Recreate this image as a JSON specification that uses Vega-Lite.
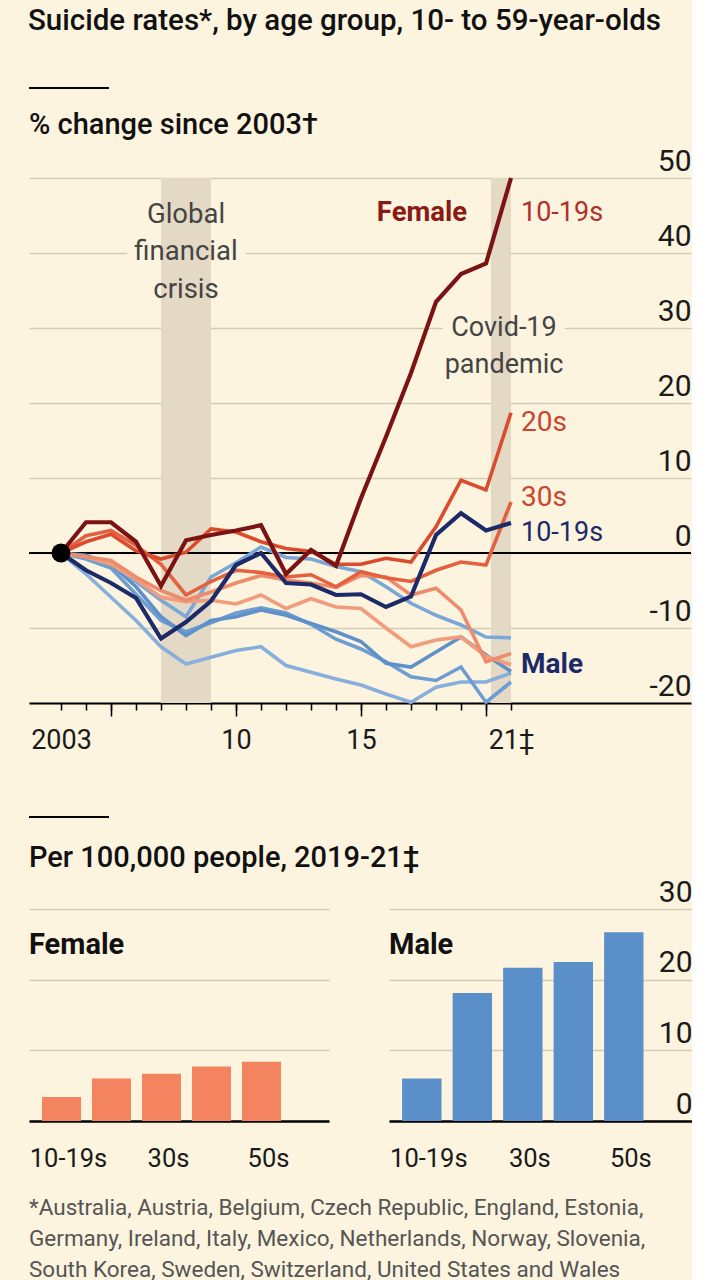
{
  "$schema": "https://vega.github.io/schema/vega-lite/v6.json",
  "background": "#fcf4de",
  "padding": {"left": 28, "top": 5, "right": 0, "bottom": 0},
  "config": {
    "font": "Roboto",
    "view": {"stroke": null},
    "title": {"font": "Roboto", "color": "#111111"},
    "axis": {"labelFont": "Roboto", "labelColor": "#1a1a1a", "titleFont": "Roboto"}
  },
  "datasets": {
    "lines": [
      {"series":"M50s","year":2003,"change":0},{"series":"M50s","year":2004,"change":-2.8},{"series":"M50s","year":2005,"change":-5.9},{"series":"M50s","year":2006,"change":-9.0},{"series":"M50s","year":2007,"change":-12.5},{"series":"M50s","year":2008,"change":-14.8},{"series":"M50s","year":2009,"change":-13.9},{"series":"M50s","year":2010,"change":-13.0},{"series":"M50s","year":2011,"change":-12.5},{"series":"M50s","year":2012,"change":-15.0},{"series":"M50s","year":2013,"change":-15.9},{"series":"M50s","year":2014,"change":-16.8},{"series":"M50s","year":2015,"change":-17.6},{"series":"M50s","year":2016,"change":-18.8},{"series":"M50s","year":2017,"change":-19.9},{"series":"M50s","year":2018,"change":-17.9},{"series":"M50s","year":2019,"change":-17.2},{"series":"M50s","year":2020,"change":-17.2},{"series":"M50s","year":2021,"change":-16.0},
      {"series":"M40s","year":2003,"change":0},{"series":"M40s","year":2004,"change":-0.8},{"series":"M40s","year":2005,"change":-2.0},{"series":"M40s","year":2006,"change":-5.5},{"series":"M40s","year":2007,"change":-9.0},{"series":"M40s","year":2008,"change":-10.5},{"series":"M40s","year":2009,"change":-9.3},{"series":"M40s","year":2010,"change":-8.0},{"series":"M40s","year":2011,"change":-7.3},{"series":"M40s","year":2012,"change":-8.0},{"series":"M40s","year":2013,"change":-9.5},{"series":"M40s","year":2014,"change":-11.5},{"series":"M40s","year":2015,"change":-12.8},{"series":"M40s","year":2016,"change":-14.5},{"series":"M40s","year":2017,"change":-16.5},{"series":"M40s","year":2018,"change":-17.0},{"series":"M40s","year":2019,"change":-15.2},{"series":"M40s","year":2020,"change":-19.9},{"series":"M40s","year":2021,"change":-17.2},
      {"series":"M30s","year":2003,"change":0},{"series":"M30s","year":2004,"change":-0.3},{"series":"M30s","year":2005,"change":-1.5},{"series":"M30s","year":2006,"change":-4.5},{"series":"M30s","year":2007,"change":-8.5},{"series":"M30s","year":2008,"change":-11.0},{"series":"M30s","year":2009,"change":-9.0},{"series":"M30s","year":2010,"change":-8.5},{"series":"M30s","year":2011,"change":-7.6},{"series":"M30s","year":2012,"change":-8.3},{"series":"M30s","year":2013,"change":-9.4},{"series":"M30s","year":2014,"change":-10.5},{"series":"M30s","year":2015,"change":-11.8},{"series":"M30s","year":2016,"change":-14.7},{"series":"M30s","year":2017,"change":-15.2},{"series":"M30s","year":2018,"change":-13.2},{"series":"M30s","year":2019,"change":-11.2},{"series":"M30s","year":2020,"change":-13.6},{"series":"M30s","year":2021,"change":-15.8},
      {"series":"M20s","year":2003,"change":0},{"series":"M20s","year":2004,"change":-0.6},{"series":"M20s","year":2005,"change":-1.4},{"series":"M20s","year":2006,"change":-3.8},{"series":"M20s","year":2007,"change":-6.3},{"series":"M20s","year":2008,"change":-8.5},{"series":"M20s","year":2009,"change":-3.2},{"series":"M20s","year":2010,"change":-1.3},{"series":"M20s","year":2011,"change":0.8},{"series":"M20s","year":2012,"change":-0.6},{"series":"M20s","year":2013,"change":-0.8},{"series":"M20s","year":2014,"change":-1.8},{"series":"M20s","year":2015,"change":-2.5},{"series":"M20s","year":2016,"change":-4.5},{"series":"M20s","year":2017,"change":-6.7},{"series":"M20s","year":2018,"change":-8.3},{"series":"M20s","year":2019,"change":-9.6},{"series":"M20s","year":2020,"change":-11.2},{"series":"M20s","year":2021,"change":-11.3},
      {"series":"F50s","year":2003,"change":0},{"series":"F50s","year":2004,"change":-0.5},{"series":"F50s","year":2005,"change":-1.5},{"series":"F50s","year":2006,"change":-3.5},{"series":"F50s","year":2007,"change":-5.9},{"series":"F50s","year":2008,"change":-6.5},{"series":"F50s","year":2009,"change":-6.3},{"series":"F50s","year":2010,"change":-6.8},{"series":"F50s","year":2011,"change":-5.6},{"series":"F50s","year":2012,"change":-7.4},{"series":"F50s","year":2013,"change":-6.1},{"series":"F50s","year":2014,"change":-7.2},{"series":"F50s","year":2015,"change":-7.4},{"series":"F50s","year":2016,"change":-10.0},{"series":"F50s","year":2017,"change":-12.5},{"series":"F50s","year":2018,"change":-11.6},{"series":"F50s","year":2019,"change":-11.2},{"series":"F50s","year":2020,"change":-13.8},{"series":"F50s","year":2021,"change":-14.9},
      {"series":"F40s","year":2003,"change":0},{"series":"F40s","year":2004,"change":-0.5},{"series":"F40s","year":2005,"change":-1.0},{"series":"F40s","year":2006,"change":-3.2},{"series":"F40s","year":2007,"change":-5.0},{"series":"F40s","year":2008,"change":-6.3},{"series":"F40s","year":2009,"change":-5.2},{"series":"F40s","year":2010,"change":-4.0},{"series":"F40s","year":2011,"change":-3.0},{"series":"F40s","year":2012,"change":-3.6},{"series":"F40s","year":2013,"change":-4.0},{"series":"F40s","year":2014,"change":-4.6},{"series":"F40s","year":2015,"change":-3.0},{"series":"F40s","year":2016,"change":-3.2},{"series":"F40s","year":2017,"change":-5.6},{"series":"F40s","year":2018,"change":-4.7},{"series":"F40s","year":2019,"change":-7.6},{"series":"F40s","year":2020,"change":-14.5},{"series":"F40s","year":2021,"change":-13.4},
      {"series":"F30s","year":2003,"change":0},{"series":"F30s","year":2004,"change":2.3},{"series":"F30s","year":2005,"change":3.0},{"series":"F30s","year":2006,"change":1.0},{"series":"F30s","year":2007,"change":-1.5},{"series":"F30s","year":2008,"change":-5.6},{"series":"F30s","year":2009,"change":-3.8},{"series":"F30s","year":2010,"change":-2.3},{"series":"F30s","year":2011,"change":-2.6},{"series":"F30s","year":2012,"change":-3.2},{"series":"F30s","year":2013,"change":-2.9},{"series":"F30s","year":2014,"change":-4.5},{"series":"F30s","year":2015,"change":-2.5},{"series":"F30s","year":2016,"change":-3.3},{"series":"F30s","year":2017,"change":-3.8},{"series":"F30s","year":2018,"change":-2.3},{"series":"F30s","year":2019,"change":-1.2},{"series":"F30s","year":2020,"change":-1.6},{"series":"F30s","year":2021,"change":6.8},
      {"series":"F20s","year":2003,"change":0},{"series":"F20s","year":2004,"change":1.5},{"series":"F20s","year":2005,"change":2.5},{"series":"F20s","year":2006,"change":0.3},{"series":"F20s","year":2007,"change":-0.8},{"series":"F20s","year":2008,"change":0.1},{"series":"F20s","year":2009,"change":3.2},{"series":"F20s","year":2010,"change":2.8},{"series":"F20s","year":2011,"change":1.5},{"series":"F20s","year":2012,"change":0.6},{"series":"F20s","year":2013,"change":0.2},{"series":"F20s","year":2014,"change":-1.5},{"series":"F20s","year":2015,"change":-1.5},{"series":"F20s","year":2016,"change":-0.7},{"series":"F20s","year":2017,"change":-1.2},{"series":"F20s","year":2018,"change":3.5},{"series":"F20s","year":2019,"change":9.7},{"series":"F20s","year":2020,"change":8.4},{"series":"F20s","year":2021,"change":18.7},
      {"series":"M10-19","year":2003,"change":0},{"series":"M10-19","year":2004,"change":-2.3},{"series":"M10-19","year":2005,"change":-4.0},{"series":"M10-19","year":2006,"change":-6.0},{"series":"M10-19","year":2007,"change":-11.4},{"series":"M10-19","year":2008,"change":-9.2},{"series":"M10-19","year":2009,"change":-6.4},{"series":"M10-19","year":2010,"change":-1.6},{"series":"M10-19","year":2011,"change":0.0},{"series":"M10-19","year":2012,"change":-4.0},{"series":"M10-19","year":2013,"change":-4.2},{"series":"M10-19","year":2014,"change":-5.6},{"series":"M10-19","year":2015,"change":-5.5},{"series":"M10-19","year":2016,"change":-7.2},{"series":"M10-19","year":2017,"change":-5.8},{"series":"M10-19","year":2018,"change":2.4},{"series":"M10-19","year":2019,"change":5.3},{"series":"M10-19","year":2020,"change":3.0},{"series":"M10-19","year":2021,"change":4.0},
      {"series":"F10-19","year":2003,"change":0},{"series":"F10-19","year":2004,"change":4.1},{"series":"F10-19","year":2005,"change":4.1},{"series":"F10-19","year":2006,"change":1.5},{"series":"F10-19","year":2007,"change":-4.4},{"series":"F10-19","year":2008,"change":1.7},{"series":"F10-19","year":2009,"change":2.4},{"series":"F10-19","year":2010,"change":3.0},{"series":"F10-19","year":2011,"change":3.7},{"series":"F10-19","year":2012,"change":-2.8},{"series":"F10-19","year":2013,"change":0.4},{"series":"F10-19","year":2014,"change":-1.7},{"series":"F10-19","year":2015,"change":7.3},{"series":"F10-19","year":2016,"change":15.5},{"series":"F10-19","year":2017,"change":24.0},{"series":"F10-19","year":2018,"change":33.5},{"series":"F10-19","year":2019,"change":37.2},{"series":"F10-19","year":2020,"change":38.6},{"series":"F10-19","year":2021,"change":50.0}
    ],
    "events": [
      {"event": "Global financial crisis", "start": 2007, "end": 2009},
      {"event": "Covid-19 pandemic", "start": 2020.2, "end": 2021}
    ],
    "rates": [
      {"sex":"Female","age":"10-19s","rate":3.4},{"sex":"Female","age":"20s","rate":6.0},{"sex":"Female","age":"30s","rate":6.7},{"sex":"Female","age":"40s","rate":7.7},{"sex":"Female","age":"50s","rate":8.4},
      {"sex":"Male","age":"10-19s","rate":6.0},{"sex":"Male","age":"20s","rate":18.1},{"sex":"Male","age":"30s","rate":21.7},{"sex":"Male","age":"40s","rate":22.5},{"sex":"Male","age":"50s","rate":26.7}
    ]
  },
  "title": {"text": "Suicide rates*, by age group, 10- to 59-year-olds", "anchor": "start", "fontSize": 29.5, "fontWeight": 500, "offset": 50.5},
  "spacing": 26,
  "vconcat": [
    {
      "width": 662,
      "height": 525,
      "data": {"name": "lines"},
      "resolve": {"axis": {"x": "independent"}},
      "layer": [
        {
          "data": {"values": [{}]},
          "mark": {"type": "text", "text": ["Global", "financial", "crisis"], "fontSize": 27.5, "lineHeight": 37.5, "fill": "#fcf4de", "stroke": "#fcf4de", "strokeWidth": 20, "strokeJoin": "round", "align": "center", "baseline": "middle"},
          "encoding": {
            "x": {"datum": 2008, "type": "quantitative", "scale": {"domain": [2001.72, 2028.2], "nice": false, "zero": false}, "axis": null},
            "y": {"datum": 45.07, "type": "quantitative", "scale": {"domain": [-20, 50], "nice": false, "zero": false},
                  "axis": {"orient": "right", "values": [-20, -10, 0, 10, 20, 30, 40, 50], "grid": true, "gridColor": "#d3cbb9", "gridWidth": 1.5, "domain": false, "ticks": false, "tickSize": 0, "labelAlign": "right", "labelBaseline": "alphabetic", "labelPadding": 0, "labelOffset": -8, "labelFontSize": 30, "labelColor": "#1a1a1a", "labelExpr": "'' + datum.value", "title": null}}
          }
        },
        {
          "data": {"values": [{}]},
          "mark": {"type": "text", "text": ["Covid-19", "pandemic"], "fontSize": 27, "lineHeight": 37, "fill": "#fcf4de", "stroke": "#fcf4de", "strokeWidth": 20, "strokeJoin": "round", "align": "center", "baseline": "middle"},
          "encoding": {
            "x": {"datum": 2020.72, "type": "quantitative", "scale": {"domain": [2001.72, 2028.2], "nice": false, "zero": false}, "axis": null},
            "y": {"datum": 30, "type": "quantitative", "scale": {"domain": [-20, 50], "nice": false, "zero": false}}
          }
        },
        {
          "data": {"name": "events"},
          "mark": {"type": "rect", "color": "#e4d9c4"},
          "encoding": {
            "x": {"field": "start", "type": "quantitative", "scale": {"domain": [2001.72, 2028.2], "nice": false, "zero": false},
                  "axis": {"orient": "bottom", "values": [2003,2004,2005,2006,2007,2008,2009,2010,2011,2012,2013,2014,2015,2016,2017,2018,2019,2020,2021], "grid": false, "domain": true, "domainColor": "#000000", "domainWidth": 2, "ticks": true, "tickColor": "#000000", "tickWidth": 1.5, "tickSize": 7, "labelExpr": "datum.value == 2003 ? '2003' : datum.value == 2010 ? '10' : datum.value == 2015 ? '15' : datum.value == 2021 ? '21‡' : ''", "labelFontSize": 27, "labelColor": "#1a1a1a", "labelPadding": 17, "labelFlush": false, "labelOverlap": false, "title": null}},
            "x2": {"field": "end"}
          }
        },
        {
          "data": {"values": [{}]},
          "mark": {"type": "rule", "color": "#000000", "strokeWidth": 1.8},
          "encoding": {
            "y": {"datum": 0, "type": "quantitative", "scale": {"domain": [-20, 50], "nice": false, "zero": false}}
          }
        },
        {
          "transform": [{"filter": "datum.series != 'F10-19' && datum.series != 'M10-19'"}],
          "mark": {"type": "line", "strokeWidth": 3.6},
          "encoding": {
            "x": {"field": "year", "type": "quantitative", "scale": {"domain": [2001.72, 2028.2], "nice": false, "zero": false},
                  "axis": {"orient": "bottom", "values": [2005, 2010, 2015, 2020], "grid": false, "domain": false, "ticks": true, "tickColor": "#000000", "tickWidth": 1.5, "tickSize": 13, "labels": false, "title": null}},
            "y": {"field": "change", "type": "quantitative", "scale": {"domain": [-20, 50], "nice": false, "zero": false}, "title": null},
            "color": {"field": "series", "type": "nominal", "legend": null,
                      "scale": {"domain": ["M50s", "M40s", "M30s", "M20s", "F50s", "F40s", "F30s", "F20s"],
                                "range": ["#86afdb", "#6d9dd2", "#5e91ca", "#7aa7d8", "#f29c7e", "#ee8b6a", "#e3613f", "#db4b2e"]}},
            "detail": {"field": "series"}
          }
        },
        {
          "transform": [{"filter": "datum.series == 'M10-19'"}],
          "mark": {"type": "line", "strokeWidth": 4.2, "color": "#1c2a69"},
          "encoding": {
            "x": {"field": "year", "type": "quantitative", "scale": {"domain": [2001.72, 2028.2], "nice": false, "zero": false}, "axis": null},
            "y": {"field": "change", "type": "quantitative", "scale": {"domain": [-20, 50], "nice": false, "zero": false}, "title": null}
          }
        },
        {
          "transform": [{"filter": "datum.series == 'F10-19'"}],
          "mark": {"type": "line", "strokeWidth": 4.2, "color": "#7b1214"},
          "encoding": {
            "x": {"field": "year", "type": "quantitative", "scale": {"domain": [2001.72, 2028.2], "nice": false, "zero": false}, "axis": null},
            "y": {"field": "change", "type": "quantitative", "scale": {"domain": [-20, 50], "nice": false, "zero": false}, "title": null}
          }
        },
        {
          "transform": [{"filter": "datum.series == 'F10-19' && datum.year == 2003"}],
          "mark": {"type": "point", "filled": true, "color": "#000000", "size": 360, "opacity": 1},
          "encoding": {
            "x": {"field": "year", "type": "quantitative", "scale": {"domain": [2001.72, 2028.2], "nice": false, "zero": false}, "axis": null},
            "y": {"field": "change", "type": "quantitative", "scale": {"domain": [-20, 50], "nice": false, "zero": false}, "title": null}
          }
        },
        {
          "data": {"values": [{}]},
          "mark": {"type": "text", "text": ["Global", "financial", "crisis"], "fontSize": 27.5, "lineHeight": 37.5, "color": "#444444", "align": "center", "baseline": "middle"},
          "encoding": {
            "x": {"datum": 2008, "type": "quantitative", "scale": {"domain": [2001.72, 2028.2], "nice": false, "zero": false}, "axis": null},
            "y": {"datum": 45.07, "type": "quantitative", "scale": {"domain": [-20, 50], "nice": false, "zero": false}}
          }
        },
        {
          "data": {"values": [{}]},
          "mark": {"type": "text", "text": ["Covid-19", "pandemic"], "fontSize": 27, "lineHeight": 37, "color": "#444444", "align": "center", "baseline": "middle"},
          "encoding": {
            "x": {"datum": 2020.72, "type": "quantitative", "scale": {"domain": [2001.72, 2028.2], "nice": false, "zero": false}, "axis": null},
            "y": {"datum": 30, "type": "quantitative", "scale": {"domain": [-20, 50], "nice": false, "zero": false}}
          }
        },
        {
          "data": {"values": [{}]},
          "mark": {"type": "text", "text": "Female", "fontSize": 27.5, "fontWeight": "bold", "color": "#8a1a14", "align": "center", "baseline": "middle"},
          "encoding": {
            "x": {"datum": 2017.44, "type": "quantitative", "scale": {"domain": [2001.72, 2028.2], "nice": false, "zero": false}, "axis": null},
            "y": {"datum": 45.33, "type": "quantitative", "scale": {"domain": [-20, 50], "nice": false, "zero": false}}
          }
        },
        {
          "data": {"values": [{}]},
          "mark": {"type": "text", "text": "10-19s", "fontSize": 27, "color": "#b3302a", "align": "left", "baseline": "middle"},
          "encoding": {
            "x": {"datum": 2021.4, "type": "quantitative", "scale": {"domain": [2001.72, 2028.2], "nice": false, "zero": false}, "axis": null},
            "y": {"datum": 45.33, "type": "quantitative", "scale": {"domain": [-20, 50], "nice": false, "zero": false}}
          }
        },
        {
          "data": {"values": [{}]},
          "mark": {"type": "text", "text": "20s", "fontSize": 28, "color": "#cc4530", "align": "left", "baseline": "middle"},
          "encoding": {
            "x": {"datum": 2021.4, "type": "quantitative", "scale": {"domain": [2001.72, 2028.2], "nice": false, "zero": false}, "axis": null},
            "y": {"datum": 17.33, "type": "quantitative", "scale": {"domain": [-20, 50], "nice": false, "zero": false}}
          }
        },
        {
          "data": {"values": [{}]},
          "mark": {"type": "text", "text": "30s", "fontSize": 28, "color": "#cc4530", "align": "left", "baseline": "middle"},
          "encoding": {
            "x": {"datum": 2021.4, "type": "quantitative", "scale": {"domain": [2001.72, 2028.2], "nice": false, "zero": false}, "axis": null},
            "y": {"datum": 7.33, "type": "quantitative", "scale": {"domain": [-20, 50], "nice": false, "zero": false}}
          }
        },
        {
          "data": {"values": [{}]},
          "mark": {"type": "text", "text": "10-19s", "fontSize": 27, "color": "#1c2a69", "align": "left", "baseline": "middle"},
          "encoding": {
            "x": {"datum": 2021.4, "type": "quantitative", "scale": {"domain": [2001.72, 2028.2], "nice": false, "zero": false}, "axis": null},
            "y": {"datum": 2.67, "type": "quantitative", "scale": {"domain": [-20, 50], "nice": false, "zero": false}}
          }
        },
        {
          "data": {"values": [{}]},
          "mark": {"type": "text", "text": "Male", "fontSize": 28, "fontWeight": "bold", "color": "#1c2a69", "align": "left", "baseline": "middle"},
          "encoding": {
            "x": {"datum": 2021.4, "type": "quantitative", "scale": {"domain": [2001.72, 2028.2], "nice": false, "zero": false}, "axis": null},
            "y": {"datum": -14.93, "type": "quantitative", "scale": {"domain": [-20, 50], "nice": false, "zero": false}}
          }
        },
        {
          "data": {"values": [{}]},
          "mark": {"type": "text", "text": "% change since 2003†", "fontSize": 29, "fontWeight": 500, "color": "#111111", "align": "left", "baseline": "middle"},
          "encoding": {
            "x": {"datum": 2001.72, "type": "quantitative", "scale": {"domain": [2001.72, 2028.2], "nice": false, "zero": false}, "axis": null},
            "y": {"datum": 57.07, "type": "quantitative", "scale": {"domain": [-20, 50], "nice": false, "zero": false}}
          }
        },
        {
          "data": {"values": [{}]},
          "mark": {"type": "rule", "color": "#000000", "strokeWidth": 2},
          "encoding": {
            "x": {"datum": 2001.72, "type": "quantitative", "scale": {"domain": [2001.72, 2028.2], "nice": false, "zero": false}, "axis": null},
            "x2": {"datum": 2004.92},
            "y": {"datum": 62, "type": "quantitative", "scale": {"domain": [-20, 50], "nice": false, "zero": false}}
          }
        },
        {
          "data": {"values": [{}]},
          "mark": {"type": "rule", "color": "#000000", "strokeWidth": 2},
          "encoding": {
            "x": {"datum": 2001.72, "type": "quantitative", "scale": {"domain": [2001.72, 2028.2], "nice": false, "zero": false}, "axis": null},
            "x2": {"datum": 2004.92},
            "y": {"datum": -35.2, "type": "quantitative", "scale": {"domain": [-20, 50], "nice": false, "zero": false}}
          }
        }
      ]
    },
    {
      "title": {"text": ["*Australia, Austria, Belgium, Czech Republic, England, Estonia,", "Germany, Ireland, Italy, Mexico, Netherlands, Norway, Slovenia,", "South Korea, Sweden, Switzerland, United States and Wales"], "orient": "bottom", "anchor": "start", "fontSize": 22.5, "fontWeight": "normal", "color": "#555555", "lineHeight": 31, "offset": 25},
      "vconcat": [
        {
          "title": {"text": "Per 100,000 people, 2019-21‡", "anchor": "start", "fontSize": 29, "fontWeight": 500, "offset": 4},
          "spacing": 60,
          "hconcat": [
            {
              "width": 300,
              "height": 212,
              "data": {"name": "rates"},
              "transform": [{"filter": "datum.sex == 'Female'"}],
              "title": {"text": "Female", "anchor": "start", "fontSize": 29, "fontWeight": "bold", "offset": -82.5, "color": "#111111"},
              "mark": {"type": "bar", "color": "#f3845f"},
              "encoding": {
                "x": {"field": "age", "type": "nominal", "sort": ["10-19s", "20s", "30s", "40s", "50s"], "title": null,
                      "scale": {"paddingInner": 0.22, "paddingOuter": 0.61, "align": 0.213},
                      "axis": {"labelAngle": 0, "ticks": false, "domainColor": "#000000", "domainWidth": 2.5, "labelFontSize": 25.5, "labelColor": "#1a1a1a", "labelPadding": 25, "labelOffset": 7, "labelExpr": "datum.value == '20s' || datum.value == '40s' ? '' : datum.label"}},
                "y": {"field": "rate", "type": "quantitative", "title": null, "scale": {"domain": [0, 30], "nice": false},
                      "axis": {"orient": "right", "values": [0, 10, 20, 30], "grid": true, "gridColor": "#d3cbb9", "gridWidth": 1.5, "domain": false, "ticks": false, "tickSize": 0, "labelAlign": "right", "labelBaseline": "alphabetic", "labelPadding": 0, "labelOffset": -8, "labelFontSize": 30, "labelOpacity": 0}}
              }
            },
            {
              "width": 303,
              "height": 212,
              "data": {"name": "rates"},
              "transform": [{"filter": "datum.sex == 'Male'"}],
              "title": {"text": "Male", "anchor": "start", "fontSize": 29, "fontWeight": "bold", "offset": -82.5, "color": "#111111"},
              "mark": {"type": "bar", "color": "#5b8fca"},
              "encoding": {
                "x": {"field": "age", "type": "nominal", "sort": ["10-19s", "20s", "30s", "40s", "50s"], "title": null,
                      "scale": {"paddingInner": 0.22, "paddingOuter": 0.61, "align": 0.213},
                      "axis": {"labelAngle": 0, "ticks": false, "domainColor": "#000000", "domainWidth": 2.5, "labelFontSize": 25.5, "labelColor": "#1a1a1a", "labelPadding": 25, "labelOffset": 7, "labelExpr": "datum.value == '20s' || datum.value == '40s' ? '' : datum.label"}},
                "y": {"field": "rate", "type": "quantitative", "title": null, "scale": {"domain": [0, 30], "nice": false},
                      "axis": {"orient": "right", "values": [0, 10, 20, 30], "grid": true, "gridColor": "#d3cbb9", "gridWidth": 1.5, "domain": false, "ticks": false, "tickSize": 0, "labelAlign": "right", "labelBaseline": "alphabetic", "labelPadding": 0, "labelOffset": -8, "labelFontSize": 30, "labelColor": "#1a1a1a"}}
              }
            }
          ]
        }
      ]
    }
  ]
}
